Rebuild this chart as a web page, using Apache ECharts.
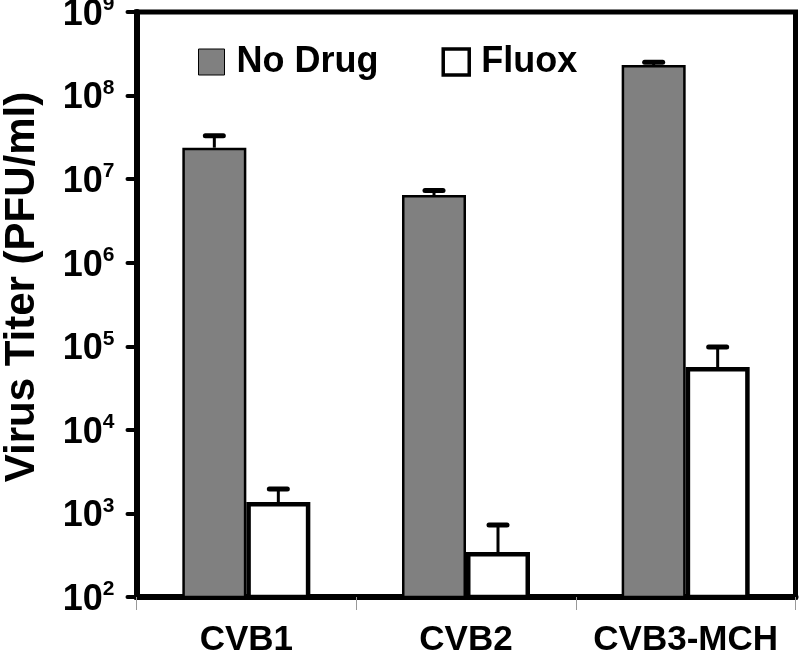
<!DOCTYPE html>
<html>
<head>
<meta charset="utf-8">
<script src="https://cdn.jsdelivr.net/npm/echarts@6/dist/echarts.min.js"></script>
<style>html,body{margin:0;padding:0;background:#fff}#c{width:800px;height:654px}</style>
</head>
<body>
<div id="c"></div>
<script>
const categories = ['CVB1', 'CVB2', 'CVB3-MCH'];
const noDrug = [2.38e7, 6.46e6, 2.32e8];
const noDrugUpper = [3.3e7, 7.3e6, 2.5e8];
const fluox = [1370, 345, 5.65e4];
const fluoxUpper = [1960, 727, 9.8e4];
const yTickValues = [1e2, 1e3, 1e4, 1e5, 1e6, 1e7, 1e8, 1e9];
const yTickExponents = ['2', '3', '4', '5', '6', '7', '8', '9'];
const seriesNames = ['No Drug', 'Fluox'];
const yTitle = 'Virus Titer (PFU/ml)';

const FONT = '"Liberation Sans", Arial, Helvetica, sans-serif';
const BAR_W = 64;

function errItem(offset) {
  return function (params, api) {
    const cat = api.value(0);
    const top = api.coord([cat, api.value(1)]);
    const up = api.coord([cat, api.value(2)]);
    const x = top[0] + offset;
    return {
      type: 'group',
      children: [
        { type: 'line', shape: { x1: x, y1: top[1], x2: x, y2: up[1] },
          style: { stroke: '#000', lineWidth: 3 } },
        { type: 'line', shape: { x1: x - 9, y1: up[1], x2: x + 9, y2: up[1] },
          style: { stroke: '#000', lineWidth: 5, lineCap: 'round' } }
      ]
    };
  };
}

const chart = echarts.init(document.getElementById('c'), null, { renderer: 'canvas' });
chart.setOption({
  animation: false,
  backgroundColor: '#fff',
  textStyle: { fontFamily: FONT },
  grid: { left: 136.5, right: 4.5, top: 12, bottom: 57, show: true, borderColor: '#000', borderWidth: 5, outerBoundsMode: 'none' },
  legend: {
    left: 198, top: 44, padding: 0, itemWidth: 26, itemHeight: 26, itemGap: 63,
    textStyle: { fontFamily: FONT, fontSize: 36, fontWeight: 'bold', color: '#000', padding: [0, 0, 0, 7] },
    data: [
      { name: seriesNames[0], icon: 'rect', itemStyle: { color: '#808080', borderColor: '#000', borderWidth: 1 } },
      { name: seriesNames[1], icon: 'rect', itemStyle: { color: '#fff', borderColor: '#000', borderWidth: 3.5 } }
    ]
  },
  xAxis: {
    type: 'category', data: categories,
    axisLine: { lineStyle: { color: '#000', width: 6 } },
    axisTick: { show: true, length: 13, lineStyle: { color: '#999', width: 1 } },
    axisLabel: { fontFamily: FONT, fontSize: 35, fontWeight: 'bold', color: '#000', margin: 26, interval: 0, hideOverlap: false }
  },
  yAxis: {
    type: 'log', logBase: 10, min: 1e2, max: 1e9,
    axisLine: { show: true, lineStyle: { color: '#000', width: 6 } },
    axisTick: { show: true, length: 9, lineStyle: { color: '#000', width: 4, cap: 'round' } },
    splitLine: { show: false },
    minorTick: { show: false },
    axisLabel: {
      margin: 22, color: '#000',
      formatter: function (v) {
        let i = 0, best = Infinity;
        yTickValues.forEach(function (t, k) { const d = Math.abs(Math.log10(t) - Math.log10(v)); if (d < best) { best = d; i = k; } });
        return '{b|10}{s|' + yTickExponents[i] + '}';
      },
      rich: {
        b: { fontFamily: FONT, fontSize: 36, fontWeight: 'bold', color: '#000', lineHeight: 36, padding: [6, 0, 0, 0] },
        s: { fontFamily: FONT, fontSize: 21, fontWeight: 'bold', color: '#000', lineHeight: 21, verticalAlign: 'top' }
      }
    }
  },
  graphic: [{
    type: 'text', x: 22, y: 287, rotation: Math.PI / 2,
    style: { text: yTitle, font: 'bold 42px ' + FONT, fill: '#000', align: 'center', verticalAlign: 'middle' }
  }],
  series: [
    { name: seriesNames[0], type: 'bar', data: noDrug, barWidth: BAR_W, barGap: '0%',
      itemStyle: { color: '#808080', borderColor: '#000', borderWidth: 2.5 } },
    { name: seriesNames[1], type: 'bar', data: fluox, barWidth: BAR_W, barGap: '0%',
      itemStyle: { color: '#fff', borderColor: '#000', borderWidth: 4.5 } },
    { name: 'errND', type: 'custom', renderItem: errItem(-BAR_W / 2), z: 5,
      data: categories.map(function (c, i) { return [i, noDrug[i], noDrugUpper[i]]; }) },
    { name: 'errF', type: 'custom', renderItem: errItem(BAR_W / 2), z: 5,
      data: categories.map(function (c, i) { return [i, fluox[i], fluoxUpper[i]]; }) }
  ]
});
</script>
</body>
</html>
